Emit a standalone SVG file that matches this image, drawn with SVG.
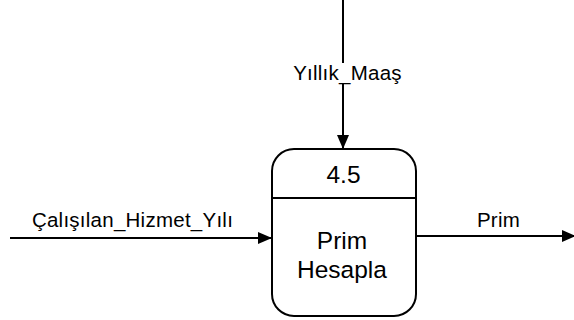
<svg xmlns="http://www.w3.org/2000/svg" width="574" height="320" viewBox="0 0 574 320">
<style>
  .ln{stroke:#000;stroke-width:2;fill:none}
  .lbl{font-family:"Liberation Sans",Arial,sans-serif;font-size:20.5px;letter-spacing:0.25px;fill:#000;text-anchor:middle}
  .big{font-family:"Liberation Sans",Arial,sans-serif;font-size:24.5px;fill:#000;text-anchor:middle}
</style>
<defs>
  <marker id="ah" viewBox="0 0 14 12" refX="14" refY="6" markerWidth="14" markerHeight="12" markerUnits="userSpaceOnUse" orient="auto">
    <path d="M0,0 L14,6 L0,12 Z" fill="#000"/>
  </marker>
</defs>
<rect width="574" height="320" fill="#fff"/>
<g id="connectors">
  <line class="ln" x1="343" y1="0" x2="343" y2="149" marker-end="url(#ah)"/>
  <line class="ln" x1="10" y1="238" x2="272" y2="238" marker-end="url(#ah)"/>
  <line class="ln" x1="416" y1="236" x2="576" y2="236" marker-end="url(#ah)"/>
  <rect x="288" y="63" width="118" height="20" fill="#fff"/>
  <text class="lbl" x="347.5" y="80">Yıllık_Maaş</text>
  <text class="lbl" x="132.5" y="227">Çalışılan_Hizmet_Yılı</text>
  <text class="lbl" x="498.5" y="227">Prim</text>
</g>
<g id="process">
  <rect class="ln" x="272" y="149" width="144" height="167" rx="22" ry="22"/>
  <line class="ln" x1="272" y1="198" x2="416" y2="198"/>
  <text class="big" x="343.5" y="183">4.5</text>
  <text class="big" x="342" y="249">Prim</text>
  <text class="big" x="342" y="278">Hesapla</text>
</g>
</svg>
